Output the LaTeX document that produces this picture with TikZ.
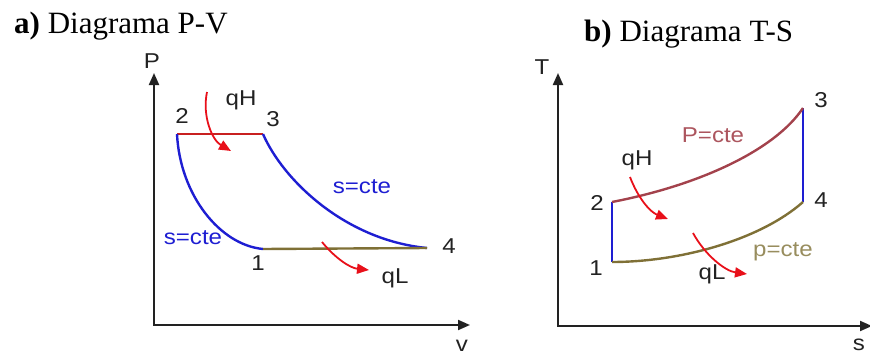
\documentclass[tikz,border=0pt]{standalone}
\usepackage{fontspec}
\setmainfont{Liberation Serif}
\setsansfont{Liberation Sans}
\newfontfamily\lblfont[FakeStretch=1.12]{Liberation Sans}
\usetikzlibrary{arrows.meta}
\definecolor{cblue}{HTML}{1E1ED2}
\definecolor{cred}{HTML}{E8101A}
\definecolor{cdred}{HTML}{C82020}
\definecolor{cmaroon}{HTML}{A3424C}
\definecolor{colive}{HTML}{7F7036}
\definecolor{caxis}{HTML}{222222}
\tikzset{
  every picture/.style={line width=2.4pt},
  axis/.style={draw=caxis, line width=2pt, -{Triangle[length=12pt, width=10pt]}},
  heat/.style={draw=cred, line width=1.8pt, -{Triangle[length=12pt, width=10pt]}},
  lbl/.style={font=\lblfont\fontsize{21.5}{24}\selectfont, text=#1, inner sep=0pt},
  lbl/.default=caxis,
  title/.style={font=\fontsize{31}{36}\selectfont, anchor=base west, inner sep=0pt},
}

\begin{document}
\begin{tikzpicture}[x=1pt, y=-1pt]
  \useasboundingbox (0,0) rectangle (870,356);
  % titles
  \node[title] (ta) at (13,33) {\textbf{a)} Diagrama P-V};
  \node[title] (tb) at (583,41) {\textbf{b)} Diagrama T-S};
  % a) P-V diagram
  \coordinate (oa) at (154,325);
  \coordinate (pa) at (154,73);
  \coordinate (va) at (470,325);
  \draw[axis] (oa) -- (pa);
  \draw[axis] ([xshift=-1pt]oa) -- (va);
  \node[lbl] (lP) at (152,61) {P};
  \node[lbl] (lv) at (462,346) {v};
  \coordinate (a1) at (263,249);
  \coordinate (a2) at (177,134);
  \coordinate (a3) at (263,134);
  \coordinate (a4) at (427,248);
  \draw[cdred] (a2) -- (a3);
  \draw[cblue] (a2) .. controls (180,195) and (220,245) .. (a1);
  \draw[cblue] (a3) .. controls (283,180) and (345,240) .. (a4);
  \draw[colive] (a1) -- (a4);
  \node[lbl] (na1) at (258,263) {1};
  \node[lbl] (na2) at (182,116) {2};
  \node[lbl] (na3) at (273,119) {3};
  \node[lbl] (na4) at (449,246) {4};
  \node[lbl=cblue] (sa1) at (193,238) {s=cte};
  \node[lbl=cblue] (sa2) at (362,187) {s=cte};
  \node[lbl] (qHa) at (241,100) {qH};
  \node[lbl] (qLa) at (395,278) {qL};
  \coordinate (ha0) at (207,92);
  \coordinate (ha1) at (231,151);
  \coordinate (la0) at (322,242);
  \coordinate (la1) at (369,270);
  \draw[heat] (ha0) .. controls (202,116) and (212,140) .. (ha1);
  \draw[heat] (la0) .. controls (335,258) and (350,268) .. (la1);
  % b) T-S diagram
  \coordinate (ob) at (558,326);
  \coordinate (tt) at (558,73);
  \coordinate (sb) at (872,326);
  \draw[axis] (ob) -- (tt);
  \draw[axis] ([xshift=-1pt]ob) -- (sb);
  \node[lbl] (lT) at (542,67) {T};
  \node[lbl] (ls) at (859,345) {s};
  \coordinate (b1) at (612,262);
  \coordinate (b2) at (612,202);
  \coordinate (b3) at (803,108);
  \coordinate (b4) at (803,202);
  \draw[cblue] (b1) -- (b2);
  \draw[cblue] (b3) -- (b4);
  \draw[cmaroon] (b2) .. controls (700,185) and (775,150) .. (b3);
  \draw[colive] (b1) .. controls (680,262) and (760,240) .. (b4);
  \node[lbl] (nb1) at (596,268) {1};
  \node[lbl] (nb2) at (597,203) {2};
  \node[lbl] (nb3) at (821,100) {3};
  \node[lbl] (nb4) at (821,200) {4};
  \node[lbl=cmaroon!90] (pb1) at (713,135) {P=cte};
  \node[lbl=colive!80] (pb2) at (783,252) {p=cte};
  \node[lbl] (qHb) at (637,160) {qH};
  \node[lbl] (qLb) at (712,274) {qL};
  \coordinate (hb0) at (630,177);
  \coordinate (hb1) at (668,219);
  \coordinate (lb0) at (693,233);
  \coordinate (lb1) at (747,274);
  \draw[heat] (hb0) .. controls (638,198) and (650,212) .. (hb1);
  \draw[heat] (lb0) .. controls (705,255) and (725,271) .. (lb1);
\end{tikzpicture}
\end{document}
